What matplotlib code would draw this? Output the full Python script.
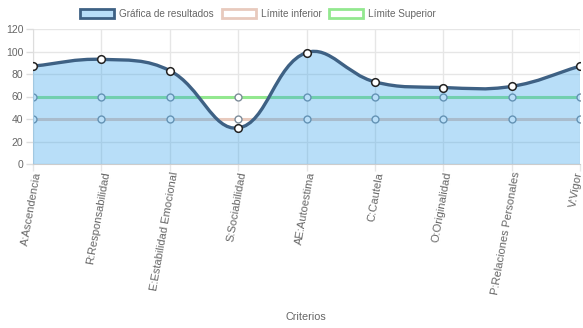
import numpy as np
import matplotlib
matplotlib.use('Agg')
from matplotlib import pyplot as plt
from matplotlib.path import Path
from matplotlib.patches import PathPatch, Patch
import matplotlib.transforms as mtransforms

plt.rcParams['font.family'] = ['Liberation Sans', 'DejaVu Sans']

criterios = ['A:Ascendencia', 'R:Responsabilidad', 'E:Estabilidad Emocional',
             'S:Sociabilidad', 'AE:Autoestima', 'C:Cautela', 'O:Originalidad',
             'P:Relaciones Personales', 'V:Vigor']
resultados = [87, 93, 83, 32, 99, 73, 68, 69, 87]
limite_inf = [40] * 9
limite_sup = [60] * 9

fig = plt.figure(figsize=(5.83, 3.28), dpi=100)
ax = fig.add_axes([33 / 583, 0.5, (580 - 33) / 583, (164 - 29) / 328])
x = np.arange(len(criterios))
ax.set_xlim(0, len(criterios) - 1)
ax.set_ylim(0, 120)


def spline_path(xs, ys, tension=0.4):
    # chart.js style bezier, control points computed in pixel space
    pts = ax.transData.transform(np.column_stack([xs, ys]))
    n = len(pts)
    cps = []
    for i in range(n):
        prev = pts[max(i - 1, 0)]
        cur = pts[i]
        nxt = pts[min(i + 1, n - 1)]
        d01 = np.hypot(*(cur - prev))
        d12 = np.hypot(*(nxt - cur))
        tot = d01 + d12 if d01 + d12 > 0 else 1
        fa = tension * d01 / tot
        fb = tension * d12 / tot
        cps.append((cur - fa * (nxt - prev), cur + fb * (nxt - prev)))
    verts = [pts[0]]
    codes = [Path.MOVETO]
    for i in range(1, n):
        verts += [cps[i - 1][1], cps[i][0], pts[i]]
        codes += [Path.CURVE4] * 3
    inv = ax.transData.inverted()
    return inv.transform(np.array(verts)), codes


fill_col = (54 / 255, 162 / 255, 235 / 255, 0.35)
line_col = '#3e6184'
inf_col = '#e8cabd'
sup_col = '#93e88f'

# limit lines (drawn under the blue fill)
ax.plot(x, limite_inf, color=inf_col, lw=2.2, zorder=2)
ax.plot(x, limite_sup, color=sup_col, lw=2.2, zorder=2)
ax.plot(x, limite_inf, 'o', ms=5, mfc='white', mec='#7d8c99', mew=1, zorder=2.5)
ax.plot(x, limite_sup, 'o', ms=5, mfc='white', mec='#7d8c99', mew=1, zorder=2.5)

verts, codes = spline_path(x, resultados)
fill_verts = list(verts) + [(x[-1], 0), (x[0], 0), verts[0]]
fill_codes = codes + [Path.LINETO, Path.LINETO, Path.CLOSEPOLY]
ax.add_patch(PathPatch(Path(fill_verts, fill_codes), facecolor=fill_col,
                       edgecolor='none', zorder=3))
ax.add_patch(PathPatch(Path(verts, codes), facecolor='none', edgecolor=line_col,
                       lw=2.4, zorder=4))
ax.plot(x, resultados, 'o', ms=5.5, mfc='white', mec='#222222', mew=1.1, zorder=5)

ax.set_xticks(x)
ax.set_xticklabels([])
# rotated labels drawn by hand so the last one can be nudged inside
base = mtransforms.blended_transform_factory(ax.transData, ax.transAxes)
for i, lab in enumerate(criterios):
    dx = -6 if i == len(criterios) - 1 else 0
    off = mtransforms.ScaledTranslation(dx / 100, -7 / 100, fig.dpi_scale_trans)
    ax.text(x[i], 0, lab, transform=base + off, rotation=80, ha='right', va='top',
            rotation_mode='anchor', fontsize=8, color='#666666', clip_on=False)
ax.set_yticks(range(0, 121, 20))
ax.tick_params(axis='y', labelsize=7.5, labelcolor='#666666', color='#dddddd',
               length=5, width=1, pad=2)
ax.tick_params(axis='x', color='#e6e6e6', length=5, width=1, pad=1)
ax.grid(True, color='#e6e6e6', lw=1, zorder=0)
for s in ['top', 'right']:
    ax.spines[s].set_visible(False)
ax.spines['left'].set_color('#dddddd')
ax.spines['bottom'].set_color('#cccccc')
ax.set_axisbelow(True)

fig.text(306 / 583, 1 - 317 / 328, 'Criterios', ha='center', va='center',
         fontsize=7.8, color='#666666')

handles = [Patch(facecolor=fill_col, edgecolor=line_col, lw=2),
           Patch(facecolor='white', edgecolor=inf_col, lw=2),
           Patch(facecolor='white', edgecolor=sup_col, lw=2)]
fig.legend(handles, ['Gráfica de resultados', 'Límite inferior', 'Límite Superior'],
           loc='center', bbox_to_anchor=(258 / 583, 1 - 14 / 328), ncol=3,
           frameon=False, fontsize=7.2, labelcolor='#666666', handlelength=3.4,
           handleheight=1.0, handletextpad=0.5, columnspacing=0.8)

fig.savefig('out.png', dpi=100)
